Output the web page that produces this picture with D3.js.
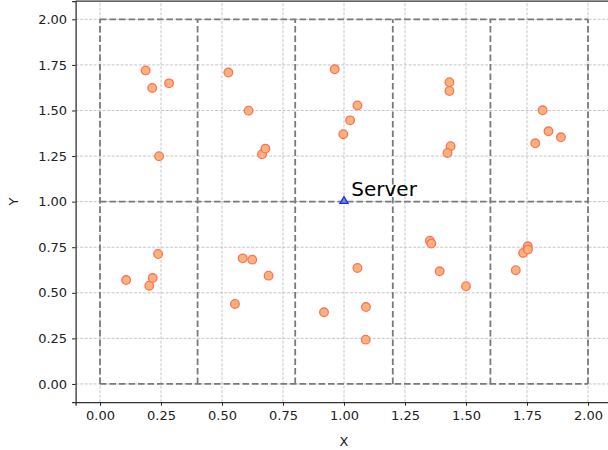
<!DOCTYPE html>
<html>
<head>
<meta charset="utf-8">
<script src="https://cdn.jsdelivr.net/npm/d3@7"></script>
<style>
  body { margin: 0; background: #fff; }
  svg text { font-family: "DejaVu Sans", sans-serif; }
</style>
</head>
<body>
<div id="chart"></div>
<script>
// client positions
var clientX = [0.187, 0.214, 0.283, 0.242, 0.526, 0.609, 0.664, 0.678,
               0.962, 1.055, 1.025, 0.997, 1.432, 1.432, 1.437, 1.424,
               1.814, 1.838, 1.889, 1.784,
               0.107, 0.202, 0.216, 0.238, 0.585, 0.624, 0.691, 0.553,
               0.918, 1.055, 1.090, 1.089, 1.352, 1.358, 1.392, 1.500,
               1.704, 1.734, 1.753, 1.754];
var clientY = [1.720, 1.624, 1.649, 1.249, 1.708, 1.499, 1.260, 1.291,
               1.726, 1.528, 1.446, 1.370, 1.655, 1.607, 1.304, 1.267,
               1.501, 1.386, 1.353, 1.320,
               0.570, 0.539, 0.581, 0.713, 0.689, 0.682, 0.594, 0.439,
               0.393, 0.636, 0.422, 0.243, 0.786, 0.770, 0.618, 0.536,
               0.624, 0.719, 0.755, 0.737];
var server = [1.0, 1.0];
var serverLabel = "Server";
// cell borders
var cellX = [0, 0.4, 0.8, 1.2, 1.6, 2.0];
var cellY = [0, 1, 2];
var ticks = [0, 0.25, 0.5, 0.75, 1.0, 1.25, 1.5, 1.75, 2.0];

var larg = 608, haut = 450;
var svg = d3.select("#chart").append("svg")
    .attr("width", larg).attr("height", haut);

var x = d3.scaleLinear().domain([-0.1, 2.1]).range([75.6, 612.4]);
var y = d3.scaleLinear().domain([-0.1, 2.1]).range([402.2, 1.1]);

// grid
svg.append("g").selectAll("line").data(ticks).enter().append("line")
    .attr("x1", function(d){ return x(d); }).attr("x2", function(d){ return x(d); })
    .attr("y1", y(-0.1)).attr("y2", y(2.1))
    .attr("stroke", "#b8b8b8").attr("stroke-width", 0.8)
    .attr("stroke-dasharray", "3,1.5");
svg.append("g").selectAll("line").data(ticks).enter().append("line")
    .attr("y1", function(d){ return y(d); }).attr("y2", function(d){ return y(d); })
    .attr("x1", x(-0.1)).attr("x2", x(2.1))
    .attr("stroke", "#b8b8b8").attr("stroke-width", 0.8)
    .attr("stroke-dasharray", "3,1.5");

// cell borders, dashed
var cells = svg.append("g")
    .attr("stroke", "#7a7a7a").attr("stroke-width", 1.8)
    .attr("stroke-dasharray", "6.5,3");
cells.selectAll("line.v").data(cellX).enter().append("line").attr("class", "v")
    .attr("x1", function(d){ return x(d); }).attr("x2", function(d){ return x(d); })
    .attr("y1", y(cellY[0])).attr("y2", y(cellY[cellY.length - 1]));
cells.selectAll("line.h").data(cellY).enter().append("line").attr("class", "h")
    .attr("y1", function(d){ return y(d); }).attr("y2", function(d){ return y(d); })
    .attr("x1", x(cellX[0])).attr("x2", x(cellX[cellX.length - 1]));

// clients
svg.append("g").selectAll("circle").data(clientX).enter().append("circle")
    .attr("cx", function(d){ return x(d); })
    .attr("cy", function(d, i){ return y(clientY[i]); })
    .attr("r", 4.3)
    .attr("fill", "#fdb27c")
    .attr("stroke", "#f97458").attr("stroke-width", 1.3);

// server
svg.append("path")
    .attr("d", d3.symbol().type(d3.symbolTriangle).size(28)())
    .attr("transform", "translate(" + x(server[0]) + "," + (y(server[1]) - 0.5) + ")")
    .attr("fill", "#5f8fd8").attr("stroke", "#1a2cf0").attr("stroke-width", 1.3);
svg.append("text")
    .attr("x", x(server[0] + 0.03)).attr("y", y(server[1] + 0.033))
    .attr("font-size", "20px").attr("fill", "#000")
    .text(serverLabel);

// axes
var xAxis = svg.append("g")
    .attr("transform", "translate(0," + y(-0.1) + ")")
    .call(d3.axisBottom(x).tickValues(ticks).tickFormat(d3.format(".2f")).tickSizeOuter(0).tickSize(3.5).tickPadding(5));
var yAxis = svg.append("g")
    .attr("transform", "translate(" + x(-0.1) + ",0)")
    .call(d3.axisLeft(y).tickValues(ticks).tickFormat(d3.format(".2f")).tickSizeOuter(0).tickSize(3.5).tickPadding(5));
[xAxis, yAxis].forEach(function(a){
  a.selectAll("text").attr("font-size", "13px").attr("fill", "#222")
    .attr("font-family", "DejaVu Sans, sans-serif");
  a.selectAll(".tick line").attr("stroke", "#222");
  a.select(".domain").attr("stroke", "#333").attr("stroke-width", 1.3);
});
// top spine
svg.append("line")
    .attr("x1", x(-0.1)).attr("x2", x(2.1))
    .attr("y1", y(2.1)).attr("y2", y(2.1))
    .attr("stroke", "#333").attr("stroke-width", 1.3);

svg.append("text").attr("x", x(1.0)).attr("y", 446)
    .attr("text-anchor", "middle").attr("font-size", "13px").attr("fill", "#222").text("X");
svg.append("text")
    .attr("transform", "translate(18," + y(1.0) + ") rotate(-90)")
    .attr("text-anchor", "middle").attr("font-size", "13px").attr("fill", "#222").text("Y");
</script>
</body>
</html>
